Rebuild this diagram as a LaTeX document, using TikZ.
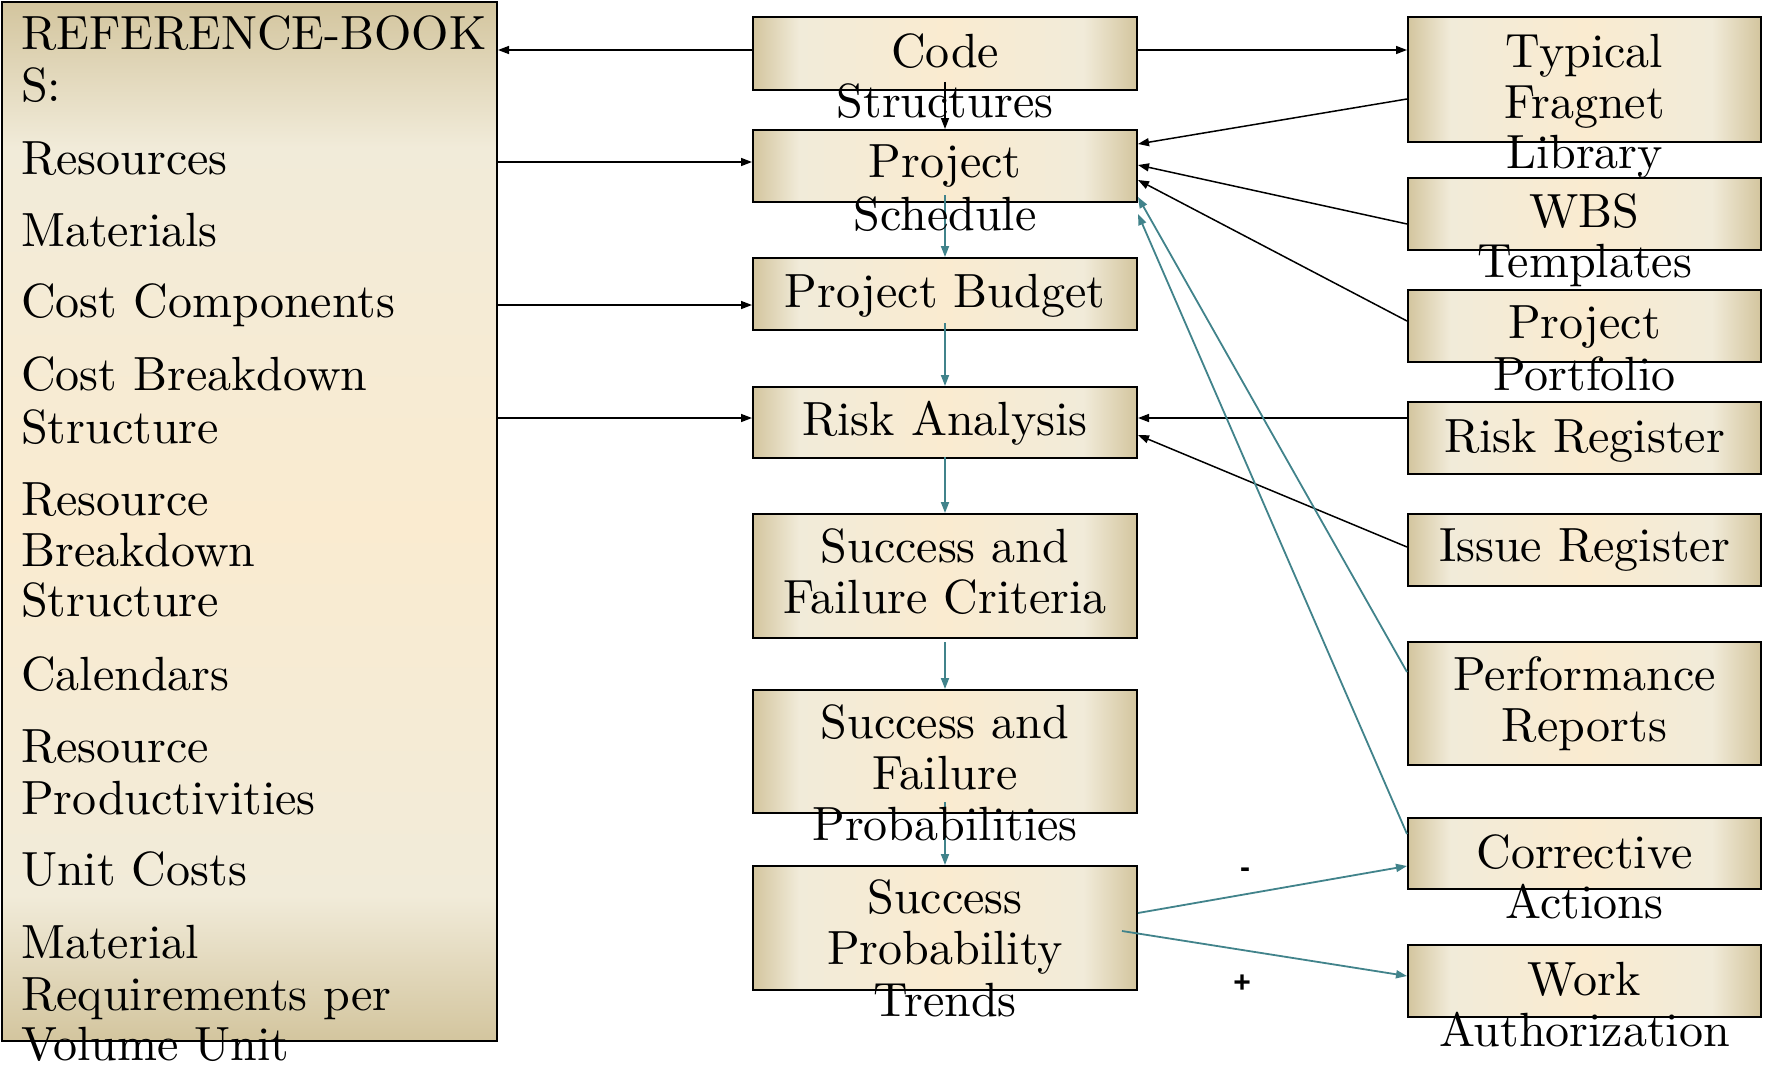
\documentclass[tikz,border=0pt]{standalone}
\usepackage{fontspec}
\setmainfont{lmroman10-regular.otf}
\newfontfamily\arialf{Liberation Sans}
\usetikzlibrary{arrows.meta,calc}
\definecolor{tanc}{HTML}{D3C59E}
\definecolor{lightc}{HTML}{F1EBD9}
\definecolor{creamc}{HTML}{FAEBD0}
\definecolor{tealc}{HTML}{41838B}
\pgfdeclarehorizontalshading{boxsh}{100bp}{color(0bp)=(tanc); color(25bp)=(tanc); color(31bp)=(lightc); color(50bp)=(creamc); color(68bp)=(lightc); color(75bp)=(tanc); color(100bp)=(tanc)}
\pgfdeclareverticalshading{leftsh}{100bp}{color(0bp)=(tanc); color(25bp)=(tanc); color(32bp)=(lightc); color(50bp)=(creamc); color(68bp)=(lightc); color(75bp)=(tanc); color(100bp)=(tanc)}
\begin{document}
\begin{tikzpicture}[x=1pt,y=-1pt,
  hbox/.style={draw=black, line width=2pt, inner sep=0pt, shading=boxsh},
  vbox/.style={draw=black, line width=2pt, inner sep=0pt, shading=leftsh},
  txt/.style={inner sep=0pt, font=\fontsize{48}{51}\selectfont},
  blk/.style={draw=black, line width=1.5pt, -{Triangle[length=11pt,width=8pt]}},
  tl/.style={draw=tealc, line width=1.8pt, -{Triangle[length=11pt,width=8pt]}},
  sign/.style={inner sep=0pt, font=\arialf\bfseries\fontsize{30}{30}\selectfont}]
\useasboundingbox[fill=white] (0,0) rectangle (1767,1073);

% left reference box
\node[vbox, minimum width=495pt, minimum height=1039pt] (refbook) at (249.5,521.5) {};

% centre column
\node[hbox, minimum width=384pt, minimum height=73pt] (code) at (945,53.5) {};
\node[hbox, minimum width=384pt, minimum height=72pt] (sched) at (945,166) {};
\node[hbox, minimum width=384pt, minimum height=72pt] (budget) at (945,294) {};
\node[hbox, minimum width=384pt, minimum height=71pt] (risk) at (945,422.5) {};
\node[hbox, minimum width=384pt, minimum height=124pt] (crit) at (945,576) {};
\node[hbox, minimum width=384pt, minimum height=123pt] (prob) at (945,751.5) {};
\node[hbox, minimum width=384pt, minimum height=124pt] (trends) at (945,928) {};

% right column
\node[hbox, minimum width=353pt, minimum height=124pt] (typ) at (1584.5,79.5) {};
\node[hbox, minimum width=353pt, minimum height=72pt] (wbs) at (1584.5,214) {};
\node[hbox, minimum width=353pt, minimum height=72pt] (port) at (1584.5,326) {};
\node[hbox, minimum width=353pt, minimum height=72pt] (rreg) at (1584.5,438) {};
\node[hbox, minimum width=353pt, minimum height=72pt] (ireg) at (1584.5,550) {};
\node[hbox, minimum width=353pt, minimum height=123pt] (perf) at (1584.5,703.5) {};
\node[hbox, minimum width=353pt, minimum height=71pt] (corr) at (1584.5,853.5) {};
\node[hbox, minimum width=353pt, minimum height=72pt] (work) at (1584.5,981) {};

% black connectors
\draw[blk] (code.west |- 0,50) -- (refbook.east |- 0,50);
\draw[blk] (code.east |- 0,50) -- (typ.west |- 0,50);
\draw[blk] (refbook.east |- 0,162) -- (sched.west |- 0,162);
\draw[blk] (refbook.east |- 0,305) -- (budget.west |- 0,305);
\draw[blk] (refbook.east |- 0,418) -- (risk.west |- 0,418);
\draw[blk] (code.south |- 0,82) -- (sched.north);
\draw[blk] (typ.west |- 0,99) -- (sched.east |- 0,144);
\draw[blk] (wbs.west |- 0,224) -- (sched.east |- 0,165);
\draw[blk] (port.west |- 0,321) -- (sched.east |- 0,180);
\draw[blk] (rreg.west |- 0,418) -- (risk.east |- 0,418);
\draw[blk] (ireg.west |- 0,547) -- (risk.east |- 0,435);

% teal connectors
\draw[tl] (sched.south |- 0,195) -- (budget.north);
\draw[tl] (budget.south |- 0,323) -- (risk.north);
\draw[tl] (risk.south |- 0,457) -- (crit.north);
\draw[tl] (crit.south |- 0,642) -- (prob.north);
\draw[tl] (prob.south |- 0,802) -- (trends.north);
\draw[tl] (perf.west |- 0,672) -- (sched.east |- 0,197);
\draw[tl] (corr.west |- 0,834) -- (sched.east |- 0,214);
\draw[tl] (trends.east |- 0,913) -- (corr.west |- 0,866);
\draw[tl] ($(trends.east |- 0,931)+(-16,0)$) -- (work.west |- 0,976);

% signs
\node[sign] (minus) at (1245,873) {-};
\node[sign] (plus) at (1242,984) {+};

% left texts
\foreach \t/\y [count=\i] in {REFERENCE-BOOK/50, S:/102, Resources/174, Materials/246,
  Cost Components/317, Cost Breakdown/390, Structure/443, Resource/515, Breakdown/566,
  Structure/616, Calendars/690, Resource/762, Productivities/814, Unit Costs/885,
  Material/958, Requirements per/1010, Volume Unit/1060}
  \node[txt, anchor=base west] (lt\i) at (21,\y) {\t};

% centre texts
\foreach \t/\y [count=\i] in {Code/67, Structures/117, Project/177, Schedule/230,
  Project Budget/307, Risk Analysis/435, Success and/562, Failure Criteria/613,
  Success and/738, Failure/789, Probabilities/840, Success/913, Probability/964, Trends/1016}
  \node[txt, anchor=base] (ct\i) at (945,\y) {\t};

% right texts
\foreach \t/\y [count=\i] in {Typical/67, Fragnet/118, Library/168, WBS/227, Templates/277,
  Project/338, Portfolio/390, Risk Register/452, Issue Register/561, Performance/690,
  Reports/741, Corrective/868, Actions/918, Work/995, Authorization/1046}
  \node[txt, anchor=base] (rt\i) at (1584.5,\y) {\t};
\end{tikzpicture}
\end{document}
